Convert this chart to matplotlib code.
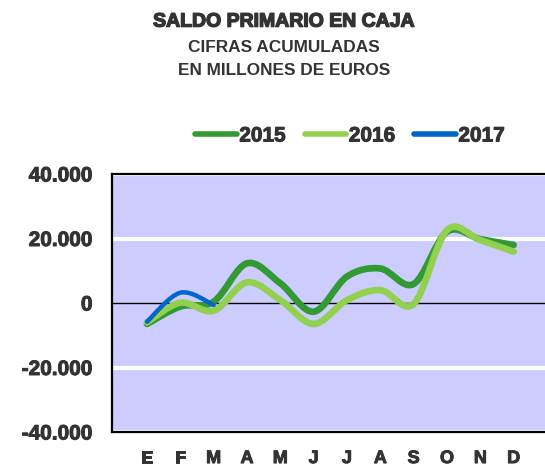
import numpy as np
import matplotlib
matplotlib.use("Agg")
import matplotlib.pyplot as plt
import matplotlib.patheffects as pe
from matplotlib.path import Path
from matplotlib.patches import PathPatch
from matplotlib.lines import Line2D

months = ["E", "F", "M", "A", "M", "J", "J", "A", "S", "O", "N", "D"]
saldo_2015 = [-6500, -1100, 400, 12300, 6100, -2700, 8200, 10700, 5900, 22100, 19800, 18000]
saldo_2016 = [-6000, 100, -2400, 6400, 900, -6500, 900, 4000, -300, 22600, 19500, 15900]
saldo_2017 = [-5800, 3200, -600]
yticks = [-40000, -20000, 0, 20000, 40000]
ytick_labels = ["-40.000", "-20.000", "0", "20.000", "40.000"]

colors = {"2015": "#339933", "2016": "#92D050", "2017": "#0066CC"}
widths = {"2015": 4.8, "2016": 4.8, "2017": 3.2}
text_color = "#333333"

plt.rcParams["font.family"] = ["Liberation Sans", "DejaVu Sans"]


def smooth_path(y):
    # Excel-like smoothed line: cubic Bezier between each pair of points
    x = np.arange(len(y), dtype=float)
    y = np.asarray(y, dtype=float)
    n = len(y)
    verts = [(x[0], y[0])]
    codes = [Path.MOVETO]
    for i in range(n - 1):
        p0 = np.array([x[max(i - 1, 0)], y[max(i - 1, 0)]])
        p1 = np.array([x[i], y[i]])
        p2 = np.array([x[i + 1], y[i + 1]])
        p3 = np.array([x[min(i + 2, n - 1)], y[min(i + 2, n - 1)]])
        c1 = p1 + (p2 - p0) / 6.0
        c2 = p2 - (p3 - p1) / 6.0
        verts += [tuple(c1), tuple(c2), tuple(p2)]
        codes += [Path.CURVE4] * 3
    return Path(verts, codes)


fig = plt.figure(figsize=(5.45, 4.71), dpi=100)
ax = fig.add_axes([112 / 545, 39 / 471, 450 / 545, 258 / 471])
ax.set_facecolor("#CCCCFF")

for v in [-40000, -20000, 20000, 40000]:
    ax.axhline(v, color="white", lw=3.0, zorder=1)
ax.axhline(0, color="black", lw=1.0, zorder=2)

for year, data in [("2015", saldo_2015), ("2016", saldo_2016), ("2017", saldo_2017)]:
    patch = PathPatch(smooth_path(data), facecolor="none", edgecolor=colors[year],
                      lw=widths[year], capstyle="round", joinstyle="round", zorder=3)
    ax.add_patch(patch)

ax.set_xlim(-1.05, 12.45)
ax.set_ylim(-40000, 40000)
ax.set_xticks(np.arange(len(months)))
ax.set_xticklabels(months, fontsize=13, fontweight="bold", color=text_color)
ax.set_yticks(yticks)
ax.set_yticklabels(ytick_labels, fontsize=15, fontweight="bold", color=text_color)
ax.tick_params(axis="both", length=0)
ax.tick_params(axis="y", pad=14)
ax.tick_params(axis="x", pad=13)
for side in ["left", "top", "bottom"]:
    ax.spines[side].set_linewidth(1.6)
    ax.spines[side].set_color("black")
ax.spines["right"].set_visible(False)
heavy = [pe.withStroke(linewidth=0.7, foreground=text_color)]
for lbl in ax.get_xticklabels() + ax.get_yticklabels():
    lbl.set_path_effects(heavy)

fig.text(0.521, 0.953, "SALDO PRIMARIO EN CAJA", ha="center", va="center",
         fontsize=14, fontweight="bold", color=text_color,
         path_effects=[pe.withStroke(linewidth=1.0, foreground=text_color)])
fig.text(0.521, 0.900, "CIFRAS ACUMULADAS", ha="center", va="center",
         fontsize=12.4, fontweight="bold", color=text_color)
fig.text(0.521, 0.851, "EN MILLONES DE EUROS", ha="center", va="center",
         fontsize=12.4, fontweight="bold", color=text_color)

handles = [Line2D([], [], color=colors[y], lw=4, solid_capstyle="round") for y in ["2015", "2016", "2017"]]
leg = fig.legend(handles, ["2015", "2016", "2017"], loc="center", ncol=3,
                 bbox_to_anchor=(350 / 545, 1 - 136 / 471), frameon=False,
                 handlelength=2.0, handletextpad=0.12, columnspacing=0.9,
                 prop={"size": 15, "weight": "bold"})
for t in leg.get_texts():
    t.set_color(text_color)
    t.set_path_effects(heavy)

fig.savefig("out.png", dpi=100)
